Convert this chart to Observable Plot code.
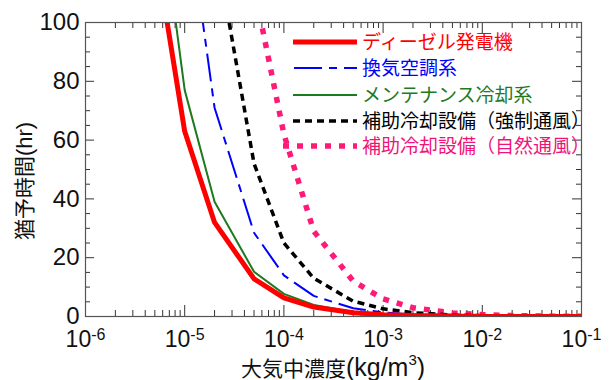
<!DOCTYPE html>
<html><head><meta charset="utf-8">
<script src="https://cdn.jsdelivr.net/npm/d3@7"></script>
<script src="https://cdn.jsdelivr.net/npm/@observablehq/plot@0.6"></script>
<style>
html,body{margin:0;padding:0;background:#fff;}
#chart{width:610px;height:380px;}
</style>
</head><body><div id="chart"></div>
<script>
// ---- data (concentration kg/m3 -> grace time hr) ----
const concRed   = [5e-6, 1e-5, 2e-5, 5e-5, 1e-4, 2e-4, 5e-4, 1e-3, 2e-3, 5e-3, 1e-2, 2e-2, 5e-2, 1e-1];
const hoursRed  = [126, 63, 32, 12.8, 6.3, 3.2, 1.3, 0.63, 0.32, 0.13, 0.06, 0.03, 0.01, 0.006];
const concBlue  = [1e-5, 2e-5, 5e-5, 1e-4, 2e-4, 5e-4, 1e-3, 2e-3, 5e-3, 1e-2, 2e-2, 5e-2, 1e-1];
const hoursBlue = [145, 71, 28.5, 14, 7, 2.8, 1.4, 0.7, 0.28, 0.14, 0.07, 0.03, 0.014];
const concGreen = [5e-6, 1e-5, 2e-5, 5e-5, 1e-4, 2e-4, 5e-4, 1e-3, 2e-3, 5e-3, 1e-2, 2e-2, 5e-2, 1e-1];
const hoursGreen= [154, 77, 39, 15.2, 7.7, 3.9, 1.5, 0.77, 0.39, 0.15, 0.08, 0.04, 0.015, 0.008];
const concBlack = [2e-5, 5e-5, 1e-4, 2e-4, 5e-4, 1e-3, 2e-3, 5e-3, 1e-2, 2e-2, 5e-2, 1e-1];
const hoursBlack= [128, 52, 25, 13, 5.2, 2.6, 1.3, 0.52, 0.26, 0.13, 0.05, 0.026];
const concPink  = [5e-5, 1e-4, 2e-4, 5e-4, 1e-3, 2e-3, 5e-3, 1e-2, 2e-2, 5e-2, 1e-1];
const hoursPink = [112, 62, 29, 12, 6, 3, 1.2, 0.6, 0.3, 0.12, 0.06];

const seriesNames = ["ディーゼル発電機", "換気空調系", "メンテナンス冷却系", "補助冷却設備（強制通風）", "補助冷却設備（自然通風）"];
const yTickValues = [0, 20, 40, 60, 80, 100];
const xTickValues = [1e-6, 1e-5, 1e-4, 1e-3, 1e-2, 1e-1];

// ---- styles ----
const styles = [
  {color: "#ff0000", width: 5, dash: null, text: "#ff0000"},
  {color: "#0000ff", width: 2, dash: "8,7,28,7", text: "#0000ff"},
  {color: "#1e7a1e", width: 2, dash: null, text: "#1e7a1e"},
  {color: "#000000", width: 3.5, dash: "7,5", text: "#000000"},
  {color: "#ff1a78", width: 5.5, dash: "6,8", text: "#f0147a"}
];
const concs = [concRed, concBlue, concGreen, concBlack, concPink];
const hours = [hoursRed, hoursBlue, hoursGreen, hoursBlack, hoursPink];
const series = concs.map((c, i) => c.map((x, j) => ({c: x, h: hours[i][j]})));

const W = 610, H = 380, mL = 85, mR = 29, mT = 22, mB = 64;
const iW = W - mL - mR, iH = H - mT - mB;

const minorY = d3.range(0, 101, 5).filter(v => v % 20 !== 0);
const majorY = yTickValues;
const minorX = [];
for (let e = -6; e < -1; e++) for (let k = 2; k <= 9; k++) minorX.push(k * Math.pow(10, e));
const majorX = xTickValues;

const tickColor = "#333";
const order = [4, 3, 2, 1, 0];
const plot = Plot.plot({
  width: W, height: H,
  marginLeft: mL, marginRight: mR, marginTop: mT, marginBottom: mB,
  style: {fontFamily: "'Liberation Sans', Arial, sans-serif", background: "#fff", overflow: "visible"},
  x: {type: "log", domain: [1e-6, 1e-1]},
  y: {domain: [0, 100]},
  marks: [
    // inside ticks
    Plot.tickY(minorY, {y: d => d, insetRight: iW - 5, stroke: tickColor}),
    Plot.tickY(majorY, {y: d => d, insetRight: iW - 9, stroke: tickColor}),
    Plot.tickY(minorY, {y: d => d, insetLeft: iW - 5, stroke: tickColor}),
    Plot.tickY(majorY, {y: d => d, insetLeft: iW - 9, stroke: tickColor}),
    Plot.tickX(minorX, {x: d => d, insetTop: iH - 6, stroke: tickColor}),
    Plot.tickX(majorX, {x: d => d, insetTop: iH - 11, stroke: tickColor}),
    Plot.tickX(minorX, {x: d => d, insetBottom: iH - 6, stroke: tickColor}),
    Plot.tickX(majorX, {x: d => d, insetBottom: iH - 11, stroke: tickColor}),
    ...order.map(i => Plot.line(series[i], {
      x: "c", y: "h", stroke: styles[i].color, strokeWidth: styles[i].width,
      strokeDasharray: styles[i].dash, strokeLinejoin: "miter", strokeLinecap: "butt", clip: true
    })),
    Plot.frame({stroke: "#555", strokeWidth: 1.2}),
    Plot.axisY(yTickValues, {tickSize: 0, tickPadding: 6, fontSize: 24, label: null, fill: "#111"}),
    Plot.axisX(xTickValues, {tickSize: 0, tickPadding: 14, fontSize: 23, label: null, fill: "#111",
      tickFormat: d => "10" + Math.round(Math.log10(d))})
  ]
});

const svg = d3.select(plot);
// superscript exponents
svg.selectAll('g[aria-label="x-axis tick label"] text').each(function() {
  const t = d3.select(this);
  const s = t.text();
  const exp = s.slice(2);
  t.text("");
  t.append("tspan").text("10");
  t.append("tspan").attr("dy", "-0.45em").attr("font-size", "16px").text(exp);
});

// axis titles
const cjk = "'Noto Sans CJK JP', sans-serif";
const latin = "'Liberation Sans', Arial, sans-serif";
const yTitle = svg.append("text")
  .attr("transform", `translate(32,181) rotate(-90)`)
  .attr("text-anchor", "middle").attr("font-family", cjk).attr("fill", "#111");
yTitle.append("tspan").attr("font-size", "21px").text("猶予時間");
yTitle.append("tspan").attr("font-size", "22px").attr("font-family", latin).text("(hr)");

const xTitle = svg.append("text")
  .attr("x", mL + iW / 2).attr("y", 376)
  .attr("text-anchor", "middle").attr("font-family", cjk).attr("fill", "#111");
xTitle.append("tspan").attr("font-size", "21px").text("大気中濃度");
xTitle.append("tspan").attr("font-size", "25px").attr("font-family", latin).text("(kg/m");
xTitle.append("tspan").attr("font-size", "15px").attr("dy", "-0.75em").attr("font-family", latin).text("3");
xTitle.append("tspan").attr("font-size", "25px").attr("dy", "0.45em").attr("font-family", latin).text(")");

// legend
const legY = [42, 68, 95, 121, 146];
const lg = svg.append("g");
seriesNames.forEach((name, i) => {
  const st = styles[i];
  const y = legY[i];
  lg.append("line").attr("x1", i === 4 ? 283 : 293).attr("x2", 357).attr("y1", y).attr("y2", y)
    .attr("stroke", st.color).attr("stroke-width", st.width)
    .attr("stroke-dasharray", st.dash)
    .attr("stroke-dashoffset", i === 1 ? 14 : 0);
  lg.append("text").attr("x", 362).attr("y", y).attr("dy", "0.36em").attr("text-anchor", "start")
    .attr("font-family", cjk).attr("font-size", "19px").attr("fill", st.text).text(name);
});

document.getElementById("chart").appendChild(plot);
</script>
</body></html>
